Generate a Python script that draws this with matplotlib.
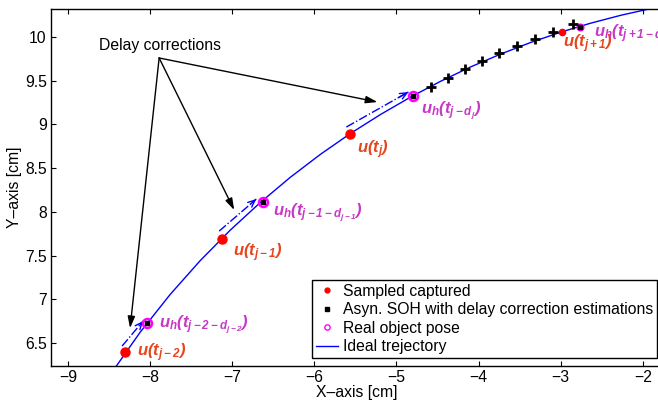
import numpy as np
import matplotlib.pyplot as plt
from matplotlib.lines import Line2D

plt.rcParams['font.family'] = ['Liberation Sans', 'DejaVu Sans']
plt.rcParams['mathtext.fontset'] = 'custom'
plt.rcParams['mathtext.rm'] = 'Liberation Sans:bold:italic'
plt.rcParams['mathtext.it'] = 'Liberation Sans:bold:italic'
plt.rcParams['mathtext.bf'] = 'Liberation Sans:bold:italic'

# ideal trajectory (cm)
traj_x = [-8.463, -8.122, -7.756, -7.390, -7.024, -6.659, -6.293, -5.927,
          -5.561, -5.195, -4.829, -4.463, -4.098, -3.732, -3.366, -3.000,
          -2.634, -2.268, -1.902, -1.659]
traj_y = [6.167, 6.622, 7.055, 7.442, 7.791, 8.106, 8.395, 8.657,
          8.896, 9.113, 9.312, 9.493, 9.657, 9.804, 9.937, 10.055,
          10.158, 10.248, 10.325, 10.370]

# sampled captured positions u(t_j)
samp_x = [-8.30, -7.12, -5.56, -2.98]
samp_y = [6.40, 7.69, 8.89, 10.06]

# real object pose / asyn. SOH estimates u_h(t_{j-d_j})
pose_x = [-8.04, -6.62, -4.80, -2.77]
pose_y = [6.73, 8.11, 9.32, 10.11]

# intermediate SOH estimates
soh_x = [-4.585, -4.378, -4.171, -3.963, -3.756, -3.537, -3.317, -3.098, -2.854]
soh_y = [9.428, 9.531, 9.634, 9.725, 9.817, 9.897, 9.977, 10.057, 10.149]

# delay correction arrows (start, end)
corr_start = [(-8.341, 6.465), (-7.159, 7.780), (-5.610, 8.970)]
corr_end = [(-8.085, 6.751), (-6.707, 8.146), (-4.854, 9.371)]

# "Delay corrections" callout
note_xy = (-7.88, 9.90)
note_root = (-7.890, 9.760)
note_tips = [(-5.232, 9.256), (-6.976, 8.021), (-8.244, 6.670)]

samp_labels = [r'$u(t_{j-2})$', r'$u(t_{j-1})$', r'$u(t_j)$', r'$u(t_{j+1})$']
samp_label_xy = [(-8.159, 6.350), (-6.988, 7.494), (-5.476, 8.673), (-2.976, 9.886)]
pose_labels = [r'$u_h(t_{j-2-d_{j-2}})$', r'$u_h(t_{j-1-d_{j-1}})$',
               r'$u_h(t_{j-d_j})$', r'$u_h(t_{j+1-d_{j+1}})$']
pose_label_xy = [(-7.890, 6.670), (-6.500, 7.952), (-4.695, 9.119), (-2.598, 10.000)]

red_txt = '#e4461e'
mag_txt = '#c639c6'
fs = 11.3

fig = plt.figure(figsize=(6.58, 4.03), dpi=100)
ax = fig.add_axes([51 / 658, 37 / 403, 611 / 658, 357 / 403])

ax.plot(traj_x, traj_y, '-', color='blue', lw=1.0, zorder=2)

# dash-dot correction arrows
for (x0, y0), (x1, y1) in zip(corr_start, corr_end):
    ax.plot([x0, x1], [y0, y1], '-.', color='blue', lw=1.0, zorder=2)
    dx, dy = x1 - x0, y1 - y0
    ax.annotate('', xy=(x1, y1), xytext=(x1 - 0.15 * dx, y1 - 0.15 * dy),
                arrowprops=dict(arrowstyle='->,head_length=0.5,head_width=0.22',
                                color='blue', lw=1.0, shrinkA=0, shrinkB=0))

ax.plot(samp_x[:3], samp_y[:3], 'o', color='red', ms=6.5, mec='red', zorder=4)
ax.plot(samp_x[3:], samp_y[3:], 'o', color='red', ms=4.5, mec='red', zorder=4)
ax.plot(pose_x[:3], pose_y[:3], 'o', mfc='none', mec='magenta', ms=6.5, mew=1.8, zorder=5)
ax.plot(pose_x[3:], pose_y[3:], 'o', mfc='none', mec='magenta', ms=4.5, mew=1.3, zorder=5)
ax.plot(pose_x, pose_y, 's', color='black', ms=3.2, zorder=6)
ax.plot(soh_x, soh_y, '+', color='black', ms=7, mew=2.0, zorder=6)

# callout arrows
ax.text(note_xy[0], note_xy[1], 'Delay corrections', fontsize=fs,
        ha='center', va='center')
for tip in note_tips:
    ax.annotate('', xy=tip, xytext=note_root,
                arrowprops=dict(arrowstyle='-|>,head_length=0.7,head_width=0.22',
                                color='black', lw=1.0, shrinkA=0, shrinkB=0))

for lab, (tx, ty) in zip(samp_labels, samp_label_xy):
    ax.text(tx, ty, lab, color=red_txt, fontsize=12, ha='left', va='baseline')
for lab, (tx, ty) in zip(pose_labels, pose_label_xy):
    ax.text(tx, ty, lab, color=mag_txt, fontsize=12, ha='left', va='baseline')

ax.set_xlim(-9.207, -1.766)
ax.set_ylim(6.237, 10.32)
ax.set_xticks([-9, -8, -7, -6, -5, -4, -3, -2])
ax.set_yticks([6.5, 7, 7.5, 8, 8.5, 9, 9.5, 10])
ax.set_yticklabels(['6.5', '7', '7.5', '8', '8.5', '9', '9.5', '10'])
ax.tick_params(direction='in', top=True, right=False, length=3.5, width=0.8,
               labelsize=fs, pad=3)
for sp in ax.spines.values():
    sp.set_linewidth(1.0)

ax.set_xlabel('X–axis [cm]', fontsize=fs, labelpad=0)
ax.set_ylabel('Y–axis [cm]', fontsize=fs, labelpad=2)

handles = [
    Line2D([], [], ls='none', marker='o', color='red', ms=3.5),
    Line2D([], [], ls='none', marker='s', color='black', ms=3),
    Line2D([], [], ls='none', marker='o', mfc='none', mec='magenta', ms=3.8, mew=1.0),
    Line2D([], [], color='blue', lw=1.0),
]
labels = ['Sampled captured', 'Asyn. SOH with delay correction estimations',
          'Real object pose', 'Ideal trejectory']
leg = ax.legend(handles, labels, loc='lower right', bbox_to_anchor=(0.992, 0.022),
                borderaxespad=0, fontsize=fs, fancybox=False, framealpha=1,
                edgecolor='black', handlelength=1.4, handletextpad=0.3,
                labelspacing=0.22, borderpad=0.25)
leg.get_frame().set_linewidth(1.0)

fig.savefig('out.png', dpi=100)
